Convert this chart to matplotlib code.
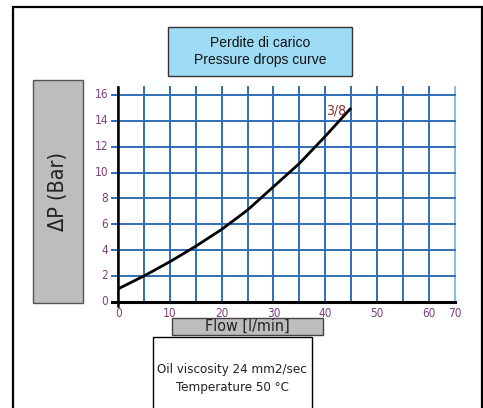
"""
Pressure drops curve (Perdite di carico) for valve size 3/8.
"""

import matplotlib.pyplot as plt
from matplotlib.patches import Rectangle

# --- data ---
flow = [0, 5, 10, 15, 20, 25, 30, 35, 40, 45]
dp = [1.0, 2.0, 3.1, 4.3, 5.6, 7.1, 8.9, 10.7, 12.8, 15.0]
curve_label = "3/8"

x_grid = [0, 5, 10, 15, 20, 25, 30, 35, 40, 45, 50, 55, 60, 65]
y_grid = [0, 2, 4, 6, 8, 10, 12, 14, 16]
x_tick_pos = [0, 10, 20, 30, 40, 50, 60, 65]
x_tick_labels = ["0", "10", "20", "30", "40", "50", "60", "70"]
y_tick_labels = ["0", "2", "4", "6", "8", "10", "12", "14", "16"]

title_text = "Perdite di carico\nPressure drops curve"
ylabel_text = "ΔP (Bar)"
xlabel_text = "Flow [l/min]"
note_lines = ["Oil viscosity 24 mm2/sec", "Temperature 50 °C"]

W, H = 483, 408
NARROW = dict(family="DejaVu Sans", stretch="condensed")
SANS = ["Liberation Sans", "DejaVu Sans"]
BLUE = "#2f6fb3"
PURPLE = "#7b3f7b"
GREY = "#bdbdbd"


def px_box(x0, y0, x1, y1):
    """pixel box (top-left origin) -> figure fraction (left, bottom, w, h)"""
    return x0 / W, (H - y1) / H, (x1 - x0) / W, (y1 - y0) / H


def add_box(fig, x0, y0, x1, y1, face, edge, lw=1.0):
    l, b, w, h = px_box(x0, y0, x1, y1)
    fig.patches.append(Rectangle((l, b), w, h, transform=fig.transFigure,
                                 facecolor=face, edgecolor=edge, linewidth=lw))
    return l + w / 2, b + h / 2


fig = plt.figure(figsize=(W / 100, H / 100), dpi=100)
fig.patch.set_facecolor("white")

# outer frame
add_box(fig, 13, 7, 482, 412, "none", "black", lw=1.6)

# axes placed so that x=0 -> 118 px, y=0 -> 302 px
x_px0, x_scale = 118.3, 5.173
y_px0, y_scale = 301.7, 12.92
xlim = (-3, 67)
ylim = (-1, 17.5)
ax_left = x_px0 + xlim[0] * x_scale
ax_right = x_px0 + xlim[1] * x_scale
ax_bottom = y_px0 - ylim[0] * y_scale
ax_top = y_px0 - ylim[1] * y_scale
ax = fig.add_axes(px_box(ax_left, ax_top, ax_right, ax_bottom))
ax.set_xlim(*xlim)
ax.set_ylim(*ylim)
ax.axis("off")

# grid
for xv in x_grid:
    col = "#86bde6" if xv == x_grid[-1] else BLUE
    ax.plot([xv, xv], [0, 16.6], color=col, lw=1.4, zorder=1)
for yv in y_grid[1:]:
    ax.plot([-1.2, x_grid[-1]], [yv, yv], color=BLUE, lw=1.4, zorder=1)

# axis lines
ax.plot([0, 0], [-0.3, 16.65], color="black", lw=1.8, zorder=2)
ax.plot([-1.2, x_grid[-1]], [0, 0], color="black", lw=2.2, zorder=2)

# tick labels
for yv, lab in zip(y_grid, y_tick_labels):
    ax.text(-2.0, yv, lab, ha="right", va="center", color=PURPLE,
            fontsize=8.5, clip_on=False, **NARROW)
for xv, lab in zip(x_tick_pos, x_tick_labels):
    ax.text(xv, -0.4, lab, ha="center", va="top", color=PURPLE,
            fontsize=8.5, clip_on=False, **NARROW)

# curve
ax.plot(flow, dp, color="black", lw=2.0, zorder=3, solid_capstyle="butt")
ax.text(44.1, 14.8, curve_label, ha="right", va="center", color="#8b2f2f",
        fontsize=10, zorder=4, **NARROW)

# title box
cx, cy = add_box(fig, 168, 27, 352, 76, "#9edcf6", "#333333", lw=1.0)
fig.text(cx, cy, title_text, ha="center", va="center", fontsize=10,
         family=SANS, color="#111111", linespacing=1.2)

# y label box
cx, cy = add_box(fig, 33, 80, 83, 303, GREY, "#555555", lw=1.0)
fig.text(cx, cy, ylabel_text, ha="center", va="center", rotation=90,
         fontsize=15.5, color="#222222", **NARROW)

# x label box
cx, cy = add_box(fig, 172, 318, 323, 335, GREY, "#444444", lw=1.0)
fig.text(cx, cy, xlabel_text, ha="center", va="center", fontsize=11.5,
         color="#222222", **NARROW)

# conditions box
add_box(fig, 153, 337, 312, 412, "white", "black", lw=1.0)
for line, ypx in zip(note_lines, [369, 388]):
    fig.text(232 / W, (H - ypx) / H, line, ha="center", va="center",
             fontsize=9.5, color="#222222", **NARROW)

fig.savefig("out.png", dpi=100)
